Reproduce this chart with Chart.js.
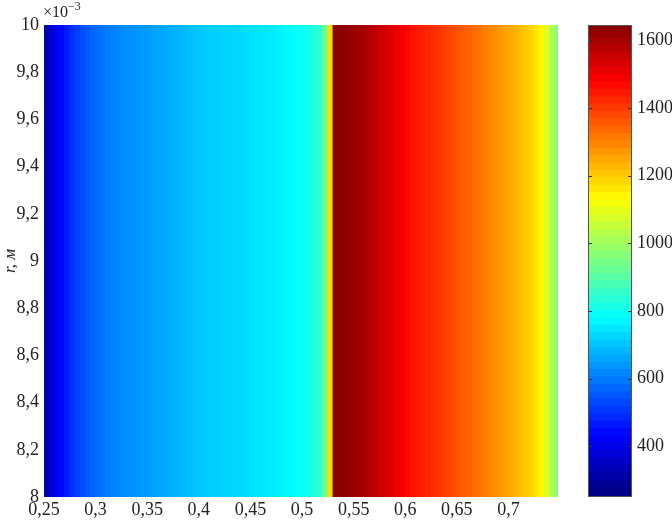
<!DOCTYPE html>
<html><head><meta charset="utf-8">
<script src="https://cdn.jsdelivr.net/npm/chart.js@4"></script>
<style>
html,body{margin:0;padding:0;background:#fff;}
#wrap{position:relative;width:672px;height:523px;overflow:hidden;}
#main{position:absolute;left:0;top:0;}
#cbar{position:absolute;left:560px;top:0;}
#exp{position:absolute;left:43px;top:0px;font:16px 'Liberation Serif',serif;color:#222;white-space:nowrap;}
#exp sup{font-size:12px;position:relative;top:-1px;}
</style></head><body>
<div id="wrap">
<canvas id="main" width="672" height="523"></canvas>
<canvas id="cbar" width="112" height="523"></canvas>
<div id="exp">×10<sup>−3</sup></div>
</div>
<script>
// column centres along the horizontal axis
const xCols = [
0.2525,0.2575,0.2625,0.2675,0.2725,0.2775,0.2825,0.2875,0.2925,0.2975,
0.3025,0.3075,0.3125,0.3175,0.3225,0.3275,0.3325,0.3375,0.3425,0.3475,
0.3525,0.3575,0.3625,0.3675,0.3725,0.3775,0.3825,0.3875,0.3925,0.3975,
0.4025,0.4075,0.4125,0.4175,0.4225,0.4275,0.4325,0.4375,0.4425,0.4475,
0.4525,0.4575,0.4625,0.4675,0.4725,0.4775,0.4825,0.4875,0.4925,0.4975,
0.5025,0.5075,0.5125,0.5175,0.5225,0.5275,0.5325,0.5375,0.5425,0.5475,
0.5525,0.5575,0.5625,0.5675,0.5725,0.5775,0.5825,0.5875,0.5925,0.5975,
0.6025,0.6075,0.6125,0.6175,0.6225,0.6275,0.6325,0.6375,0.6425,0.6475,
0.6525,0.6575,0.6625,0.6675,0.6725,0.6775,0.6825,0.6875,0.6925,0.6975,
0.7025,0.7075,0.7125,0.7175,0.7225,0.7275,0.7325,0.7375,0.7425,0.7475];
// value of each column (constant along r)
const colValues = [
300,370,405,430,460,490,510,530,548,562,
574,585,595,602,609,615,621,626,630,636,
642,648,652,657,663,668,674,680,686,692,
698,703,708,711,714,716,718,720,725,730,
735,738,742,745,750,755,760,766,772,780,
790,800,815,840,920,1170,1630,1632,1625,1615,
1605,1595,1585,1570,1555,1540,1528,1512,1495,1480,
1462,1448,1438,1428,1418,1410,1402,1390,1378,1366,
1354,1344,1334,1323,1312,1300,1288,1276,1263,1250,
1238,1226,1212,1196,1178,1155,1130,1075,1010,960];
const rRange = [8, 10];
const colorRange = [250, 1645];
const xTickValues = [0.25,0.3,0.35,0.4,0.45,0.5,0.55,0.6,0.65,0.7];
const xTickLabels = ['0,25','0,3','0,35','0,4','0,45','0,5','0,55','0,6','0,65','0,7'];
const yTickValues = [8,8.2,8.4,8.6,8.8,9,9.2,9.4,9.6,9.8,10];
const yTickLabels = ['8','8,2','8,4','8,6','8,8','9','9,2','9,4','9,6','9,8','10'];
const cbTickValues = [400,600,800,1000,1200,1400,1600];
const cbTickLabels = ['400','600','800','1000','1200','1400','1600'];

function jet(v){
  let t=(v-colorRange[0])/(colorRange[1]-colorRange[0]);
  t=Math.max(0,Math.min(1,t));
  const c=x=>Math.round(255*Math.max(0,Math.min(1,x)));
  return `rgb(${c(1.5-Math.abs(4*t-3))},${c(1.5-Math.abs(4*t-2))},${c(1.5-Math.abs(4*t-1))})`;
}
const FONT='Liberation Serif';
const TXT='#222';
const FS=18;

new Chart(document.getElementById('main'),{
  type:'bar',
  data:{datasets:[{
    data:xCols.map((x,i)=>({x:x,y:[rRange[0],rRange[1]]})),
    backgroundColor:colValues.map(jet),
    borderWidth:0,
    barPercentage:1.15,
    categoryPercentage:1
  }]},
  options:{
    responsive:false,animation:false,
    layout:{padding:{top:25,right:114,bottom:0,left:0}},
    plugins:{legend:{display:false},tooltip:{enabled:false}},
    scales:{
      x:{type:'linear',min:0.25,max:0.748,offset:false,
        grid:{display:false,drawTicks:false},border:{display:false},
        afterBuildTicks:s=>{s.ticks=xTickValues.map(v=>({value:v}));},
        afterFit:s=>{s.height=26;},
        ticks:{autoSkip:false,maxRotation:0,padding:2,color:TXT,font:{family:FONT,size:FS},
          callback:(v,i)=>xTickLabels[i]}},
      y:{type:'linear',min:rRange[0],max:rRange[1],
        grid:{display:false,drawTicks:false},border:{display:false},
        afterBuildTicks:s=>{s.ticks=yTickValues.map(v=>({value:v}));},
        afterFit:s=>{s.width=44;},
        title:{display:true,text:'r, м',color:TXT,padding:0,font:{family:FONT,size:17,style:'italic'}},
        ticks:{autoSkip:false,padding:5,color:TXT,font:{family:FONT,size:FS},
          callback:(v,i)=>yTickLabels[i]}}
    }
  }
});

// colour bar (legend)
const nLev=64, step=(colorRange[1]-colorRange[0])/nLev;
const levels=[];
for(let k=0;k<nLev;k++){levels.push(colorRange[0]+k*step);}
const cbDecor={id:'cbDecor',afterDatasetsDraw(ch){
  const {ctx,chartArea:a}=ch; const y=ch.scales.y;
  ctx.save();ctx.strokeStyle='#333';ctx.lineWidth=1;
  cbTickValues.forEach(v=>{const p=Math.round(y.getPixelForValue(v))+0.5;
    ctx.beginPath();ctx.moveTo(a.left,p);ctx.lineTo(a.left+4,p);
    ctx.moveTo(a.right-4,p);ctx.lineTo(a.right,p);ctx.stroke();});
  ctx.strokeStyle='#555';
  ctx.strokeRect(Math.round(a.left)+0.5,Math.round(a.top)+0.5,Math.round(a.right-a.left)-1,Math.round(a.bottom-a.top)-1);
  ctx.restore();}};
new Chart(document.getElementById('cbar'),{
  type:'bar',
  data:{labels:[''],datasets:levels.map(lo=>({
    data:[[lo,Math.min(colorRange[1],lo+step*1.3)]],
    backgroundColor:jet(lo+step/2),borderWidth:0,grouped:false,
    barPercentage:1,categoryPercentage:1}))},
  options:{
    responsive:false,animation:false,
    layout:{padding:{top:25,bottom:26,left:28,right:0}},
    plugins:{legend:{display:false},tooltip:{enabled:false}},
    scales:{
      x:{display:false},
      y:{position:'right',min:colorRange[0],max:colorRange[1],
        grid:{display:false,drawTicks:false},border:{display:false},
        afterBuildTicks:s=>{s.ticks=cbTickValues.map(v=>({value:v}));},
        afterFit:s=>{s.width=40;},
        ticks:{autoSkip:false,padding:5,color:TXT,font:{family:FONT,size:FS},
          callback:(v,i)=>cbTickLabels[i]}}
    }
  },
  plugins:[cbDecor]
});
</script>
</body></html>
